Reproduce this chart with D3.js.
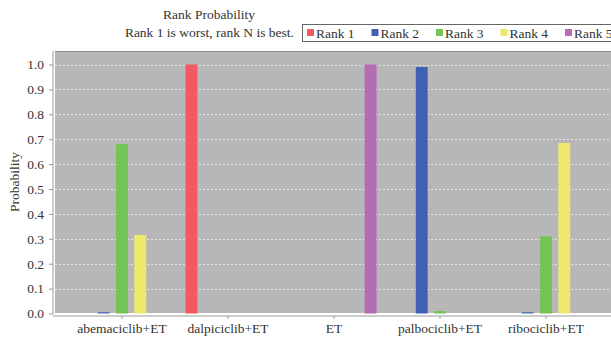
<!DOCTYPE html>
<html><head><meta charset="utf-8">
<script src="https://cdn.jsdelivr.net/npm/d3@7"></script>
<style>body{margin:0;background:#fff}svg{display:block}</style>
</head><body><svg id="c" width="611" height="337"></svg>
<script>
const categories = ["abemaciclib+ET","dalpiciclib+ET","ET","palbociclib+ET","ribociclib+ET"];
const ranks = ["Rank 1","Rank 2","Rank 3","Rank 4","Rank 5"];
const rank1 = [0, 1.0, 0, 0, 0];
const rank2 = [0.005, 0, 0, 0.99, 0.005];
const rank3 = [0.68, 0, 0, 0.01, 0.31];
const rank4 = [0.315, 0, 0, 0, 0.685];
const rank5 = [0, 0, 1.0, 0, 0];
const yTicks = [0,0.1,0.2,0.3,0.4,0.5,0.6,0.7,0.8,0.9,1.0];
const colors = ["#f05a60","#4060b4","#74c458","#f0e86c","#b46cb4"];
const series = [rank1,rank2,rank3,rank4,rank5];
const FONT = "Liberation Serif";
const FS = "13.5px";

const svg = d3.select("#c");
const plot = {l:55, r:611, t:51, b:313};
const x = d3.scaleBand().domain(categories).range([69, 599]);
const xr = d3.scaleBand().domain(ranks).range([x.bandwidth()/2 - 2.5*17, x.bandwidth()/2 + 2.5*17]).paddingInner(0.35);
const y = d3.scaleLinear().domain([0,1]).range([313.5, 64.5]);

svg.append("rect").attr("x",plot.l).attr("y",plot.t).attr("width",plot.r-plot.l).attr("height",plot.b-plot.t).attr("fill","#b7b7b8");
svg.append("line").attr("x1",plot.l).attr("x2",plot.r).attr("y1",plot.t+0.5).attr("y2",plot.t+0.5).attr("stroke","#8c8c8c");
svg.append("g").selectAll("line").data(yTicks.slice(1)).join("line")
  .attr("x1",plot.l).attr("x2",plot.r).attr("y1",d=>Math.round(y(d))+0.5).attr("y2",d=>Math.round(y(d))+0.5)
  .attr("stroke","#e4e4e4").attr("stroke-dasharray","2,2").attr("stroke-width",1);
const g = svg.append("g");
categories.forEach((c,i)=>{
  series.forEach((s,j)=>{
    const v = s[i];
    if(v<=0) return;
    g.append("rect").attr("x",x(c)+xr(ranks[j])).attr("width",xr.bandwidth())
      .attr("y",y(v)).attr("height",y(0)-y(v)).attr("fill",colors[j]);
  });
});
const ya = svg.append("g").attr("transform","translate(53,0)").call(d3.axisLeft(y).tickValues(yTicks).tickFormat(d3.format(".1f")).tickSize(4).tickPadding(5));
ya.attr("font-family",FONT).attr("font-size",FS);
ya.select(".domain").attr("stroke","#999").attr("d","M0,"+plot.t+"V"+(plot.b+1));
ya.selectAll(".tick line").attr("stroke","#999");
ya.selectAll("text").attr("fill","#333").style("font-family",FONT).style("font-size",FS);
const xa = svg.append("g").attr("transform","translate(0,316)").call(d3.axisBottom(x).tickSize(3).tickPadding(4));
xa.attr("font-family",FONT).attr("font-size",FS);
xa.select(".domain").attr("stroke","#999").attr("d","M53,0H611");
xa.selectAll(".tick line").attr("stroke","#999");
xa.selectAll("text").attr("fill","#333").style("font-family",FONT).style("font-size",FS);
function txt(xx,yy,anchor,s,tr){
  const t = svg.append("text").attr("text-anchor",anchor).attr("fill","#333").style("font-family",FONT).style("font-size",FS).text(s);
  if(tr) t.attr("transform",tr); else t.attr("x",xx).attr("y",yy);
  return t;
}
txt(0,0,"middle","Probability","translate(19,182) rotate(-90)");
txt(209,19,"middle","Rank Probability");
txt(294,37,"end","Rank 1 is worst, rank N is best.");
const lg = svg.append("g");
lg.append("rect").attr("x",302.5).attr("y",24.5).attr("width",320).attr("height",17).attr("fill","#fff").attr("stroke","#666");
ranks.forEach((r,j)=>{
  const lx = 307 + j*64.5;
  lg.append("rect").attr("x",lx).attr("y",29).attr("width",7).attr("height",7).attr("fill",colors[j]);
  txt(lx+9,37.5,"start",r);
});
</script></body></html>
